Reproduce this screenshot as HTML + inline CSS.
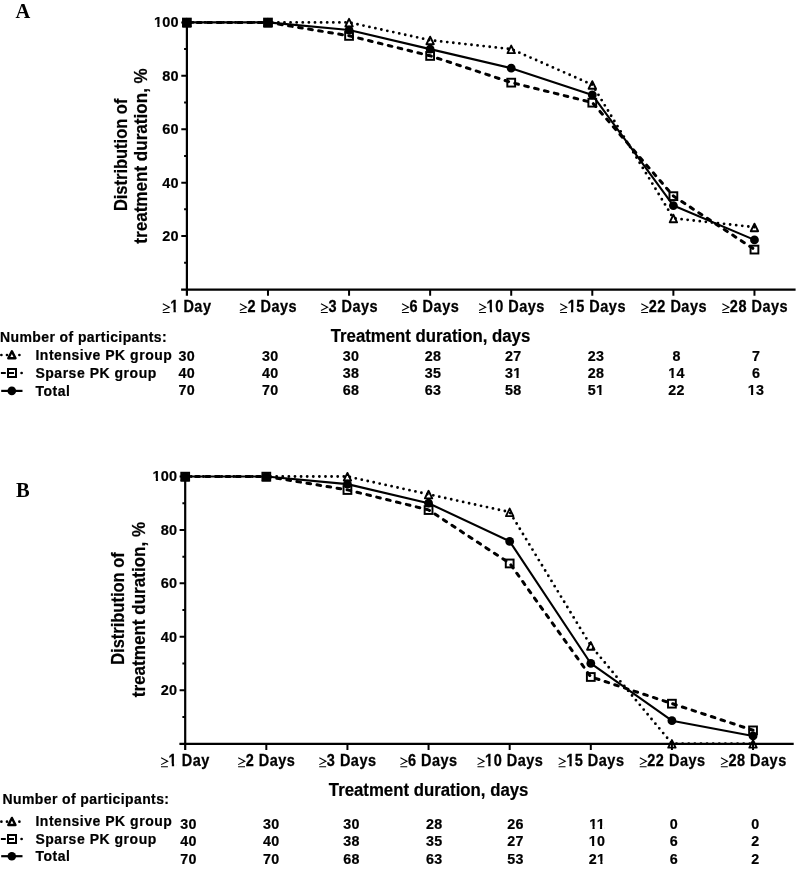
<!DOCTYPE html>
<html><head><meta charset="utf-8"><style>
html,body{margin:0;padding:0;background:#fff;overflow:hidden;width:797px;height:869px;}
svg{display:block;will-change:transform;}
</style></head><body>
<svg width="797" height="869" viewBox="0 0 797 869" font-family='"Liberation Sans", sans-serif' fill="#000">
<rect width="797" height="869" fill="#fff"/>
<text transform="translate(15.4 17.9) scale(1 1.03)" font-family='"Liberation Serif", serif' font-weight="bold" font-size="20.5">A</text>
<path d="M184.10 262.79H186.9M181.30 236.08H186.9M184.10 209.37H186.9M181.30 182.66H186.9M184.10 155.95H186.9M181.30 129.24H186.9M184.10 102.53H186.9M181.30 75.82H186.9M184.10 49.11H186.9M181.30 22.40H186.9M267.98 289.5V295.80M349.06 289.5V295.80M430.14 289.5V295.80M511.22 289.5V295.80M592.30 289.5V295.80M673.38 289.5V295.80M754.46 289.5V295.80" stroke="#000" stroke-width="2" fill="none"/>
<text transform="translate(178.7 241.08) scale(1 1.06)" text-anchor="end" font-size="14.5" font-weight="bold" letter-spacing="0.15" stroke="#000" stroke-width="0.2">20</text>
<text transform="translate(178.7 187.66) scale(1 1.06)" text-anchor="end" font-size="14.5" font-weight="bold" letter-spacing="0.15" stroke="#000" stroke-width="0.2">40</text>
<text transform="translate(178.7 134.24) scale(1 1.06)" text-anchor="end" font-size="14.5" font-weight="bold" letter-spacing="0.15" stroke="#000" stroke-width="0.2">60</text>
<text transform="translate(178.7 80.82) scale(1 1.06)" text-anchor="end" font-size="14.5" font-weight="bold" letter-spacing="0.15" stroke="#000" stroke-width="0.2">80</text>
<text transform="translate(178.7 26.50) scale(1 1.06)" text-anchor="end" font-size="14.5" font-weight="bold" letter-spacing="0.15" stroke="#000" stroke-width="0.2">100</text>
<path d="M162.80 303.70L169.40 307.20L162.80 310.50M162.70 312.55H169.60" fill="none" stroke="#000" stroke-width="1.05"/>
<text transform="translate(170.30 312.2) scale(1 1.11)" font-size="14.5" font-weight="bold" letter-spacing="0.5" stroke="#000" stroke-width="0.25">1 Day</text>
<path d="M239.88 303.70L246.48 307.20L239.88 310.50M239.78 312.55H246.68" fill="none" stroke="#000" stroke-width="1.05"/>
<text transform="translate(247.38 312.2) scale(1 1.11)" font-size="14.5" font-weight="bold" letter-spacing="0.5" stroke="#000" stroke-width="0.25">2 Days</text>
<path d="M320.96 303.70L327.56 307.20L320.96 310.50M320.86 312.55H327.76" fill="none" stroke="#000" stroke-width="1.05"/>
<text transform="translate(328.46 312.2) scale(1 1.11)" font-size="14.5" font-weight="bold" letter-spacing="0.5" stroke="#000" stroke-width="0.25">3 Days</text>
<path d="M402.04 303.70L408.64 307.20L402.04 310.50M401.94 312.55H408.84" fill="none" stroke="#000" stroke-width="1.05"/>
<text transform="translate(409.54 312.2) scale(1 1.11)" font-size="14.5" font-weight="bold" letter-spacing="0.5" stroke="#000" stroke-width="0.25">6 Days</text>
<path d="M479.12 303.70L485.72 307.20L479.12 310.50M479.02 312.55H485.92" fill="none" stroke="#000" stroke-width="1.05"/>
<text transform="translate(486.62 312.2) scale(1 1.11)" font-size="14.5" font-weight="bold" letter-spacing="0.5" stroke="#000" stroke-width="0.25">10 Days</text>
<path d="M560.20 303.70L566.80 307.20L560.20 310.50M560.10 312.55H567.00" fill="none" stroke="#000" stroke-width="1.05"/>
<text transform="translate(567.70 312.2) scale(1 1.11)" font-size="14.5" font-weight="bold" letter-spacing="0.5" stroke="#000" stroke-width="0.25">15 Days</text>
<path d="M641.28 303.70L647.88 307.20L641.28 310.50M641.18 312.55H648.08" fill="none" stroke="#000" stroke-width="1.05"/>
<text transform="translate(648.78 312.2) scale(1 1.11)" font-size="14.5" font-weight="bold" letter-spacing="0.5" stroke="#000" stroke-width="0.25">22 Days</text>
<path d="M722.36 303.70L728.96 307.20L722.36 310.50M722.26 312.55H729.16" fill="none" stroke="#000" stroke-width="1.05"/>
<text transform="translate(729.86 312.2) scale(1 1.11)" font-size="14.5" font-weight="bold" letter-spacing="0.5" stroke="#000" stroke-width="0.25">28 Days</text>
<text transform="translate(126.9 154.85) rotate(-90) scale(1 1.06)" stroke="#000" stroke-width="0.2" text-anchor="middle" font-size="17" font-weight="bold" textLength="112.5" lengthAdjust="spacingAndGlyphs">Distribution of</text>
<text transform="translate(146.9 155.95) rotate(-90) scale(1 1.06)" stroke="#000" stroke-width="0.2" text-anchor="middle" font-size="17" font-weight="bold" textLength="175.5" lengthAdjust="spacingAndGlyphs">treatment duration, %</text>
<polyline points="186.90,22.40 267.98,22.40 349.06,22.40 430.14,40.22 511.22,49.11 592.30,84.71 673.38,218.26 754.46,227.19" fill="none" stroke="#000" stroke-width="2.85" stroke-dasharray="0 6.104" stroke-dashoffset="0.1" stroke-linecap="round" stroke-linejoin="round"/>
<polyline points="186.90,22.40 267.98,22.40 349.06,35.76 430.14,55.79 511.22,82.50 592.30,102.53 673.38,196.01 754.46,249.44" fill="none" stroke="#000" stroke-width="3.0" stroke-dasharray="3.7 6.47" stroke-dashoffset="-0.25" stroke-linecap="round" stroke-linejoin="round"/>
<polyline points="186.90,22.40 267.98,22.40 349.06,30.04 430.14,49.11 511.22,68.18 592.30,94.89 673.38,205.55 754.46,239.90" fill="none" stroke="#000" stroke-width="2.1" stroke-linejoin="round"/>
<path d="M186.9 21.90V295.80M181.10 289.70H795.6" stroke="#000" stroke-width="2.2" fill="none"/>
<path d="M186.90 18.85L190.60 26.45H183.20Z" fill="none" stroke="#000" stroke-width="1.9" stroke-linejoin="round"/>
<path d="M267.98 18.85L271.68 26.45H264.28Z" fill="none" stroke="#000" stroke-width="1.9" stroke-linejoin="round"/>
<path d="M349.06 18.85L352.76 26.45H345.36Z" fill="none" stroke="#000" stroke-width="1.9" stroke-linejoin="round"/>
<path d="M430.14 36.67L433.84 44.27H426.44Z" fill="none" stroke="#000" stroke-width="1.9" stroke-linejoin="round"/>
<path d="M511.22 45.56L514.92 53.16H507.52Z" fill="none" stroke="#000" stroke-width="1.9" stroke-linejoin="round"/>
<path d="M592.30 81.16L596.00 88.76H588.60Z" fill="none" stroke="#000" stroke-width="1.9" stroke-linejoin="round"/>
<path d="M673.38 214.71L677.08 222.31H669.68Z" fill="none" stroke="#000" stroke-width="1.9" stroke-linejoin="round"/>
<path d="M754.46 223.64L758.16 231.24H750.76Z" fill="none" stroke="#000" stroke-width="1.9" stroke-linejoin="round"/>
<rect x="183.00" y="18.65" width="7.8" height="7.8" fill="none" stroke="#000" stroke-width="1.95"/>
<rect x="264.08" y="18.65" width="7.8" height="7.8" fill="none" stroke="#000" stroke-width="1.95"/>
<rect x="345.16" y="32.01" width="7.8" height="7.8" fill="none" stroke="#000" stroke-width="1.95"/>
<rect x="426.24" y="52.04" width="7.8" height="7.8" fill="none" stroke="#000" stroke-width="1.95"/>
<rect x="507.32" y="78.75" width="7.8" height="7.8" fill="none" stroke="#000" stroke-width="1.95"/>
<rect x="588.40" y="98.78" width="7.8" height="7.8" fill="none" stroke="#000" stroke-width="1.95"/>
<rect x="669.48" y="192.26" width="7.8" height="7.8" fill="none" stroke="#000" stroke-width="1.95"/>
<rect x="750.56" y="245.69" width="7.8" height="7.8" fill="none" stroke="#000" stroke-width="1.95"/>
<circle cx="186.90" cy="22.40" r="4.4" fill="#000"/>
<circle cx="267.98" cy="22.40" r="4.4" fill="#000"/>
<circle cx="349.06" cy="30.04" r="4.4" fill="#000"/>
<circle cx="430.14" cy="49.11" r="4.4" fill="#000"/>
<circle cx="511.22" cy="68.18" r="4.4" fill="#000"/>
<circle cx="592.30" cy="94.89" r="4.4" fill="#000"/>
<circle cx="673.38" cy="205.55" r="4.4" fill="#000"/>
<circle cx="754.46" cy="239.90" r="4.4" fill="#000"/>
<text transform="translate(330.7 342.0) scale(1 1.06)" font-size="17" font-weight="bold" textLength="199.6" lengthAdjust="spacingAndGlyphs" stroke="#000" stroke-width="0.2">Treatment duration, days</text>
<text transform="translate(0.10000000000000009 341.8) scale(1 1.06)" font-size="14" font-weight="bold" letter-spacing="0.4" stroke="#000" stroke-width="0.2">Number of participants:</text>
<text transform="translate(35.4 359.7) scale(1 1.06)" font-size="14" font-weight="bold" letter-spacing="0.53" stroke="#000" stroke-width="0.2">Intensive PK group</text>
<text transform="translate(186.7 361.1) scale(1 1.06)" text-anchor="middle" font-size="14.3" font-weight="bold" letter-spacing="0.3" stroke="#000" stroke-width="0.2">30</text>
<text transform="translate(270.2 361.1) scale(1 1.06)" text-anchor="middle" font-size="14.3" font-weight="bold" letter-spacing="0.3" stroke="#000" stroke-width="0.2">30</text>
<text transform="translate(351.0 361.1) scale(1 1.06)" text-anchor="middle" font-size="14.3" font-weight="bold" letter-spacing="0.3" stroke="#000" stroke-width="0.2">30</text>
<text transform="translate(432.9 361.1) scale(1 1.06)" text-anchor="middle" font-size="14.3" font-weight="bold" letter-spacing="0.3" stroke="#000" stroke-width="0.2">28</text>
<text transform="translate(513.2 361.1) scale(1 1.06)" text-anchor="middle" font-size="14.3" font-weight="bold" letter-spacing="0.3" stroke="#000" stroke-width="0.2">27</text>
<text transform="translate(596.1 361.1) scale(1 1.06)" text-anchor="middle" font-size="14.3" font-weight="bold" letter-spacing="0.3" stroke="#000" stroke-width="0.2">23</text>
<text transform="translate(676.5 361.1) scale(1 1.06)" text-anchor="middle" font-size="14.3" font-weight="bold" letter-spacing="0.3" stroke="#000" stroke-width="0.2">8</text>
<text transform="translate(756.0 361.1) scale(1 1.06)" text-anchor="middle" font-size="14.3" font-weight="bold" letter-spacing="0.3" stroke="#000" stroke-width="0.2">7</text>
<text transform="translate(35.4 377.7) scale(1 1.06)" font-size="14" font-weight="bold" letter-spacing="0.53" stroke="#000" stroke-width="0.2">Sparse PK group</text>
<text transform="translate(186.7 378.3) scale(1 1.06)" text-anchor="middle" font-size="14.3" font-weight="bold" letter-spacing="0.3" stroke="#000" stroke-width="0.2">40</text>
<text transform="translate(270.2 378.3) scale(1 1.06)" text-anchor="middle" font-size="14.3" font-weight="bold" letter-spacing="0.3" stroke="#000" stroke-width="0.2">40</text>
<text transform="translate(351.0 378.3) scale(1 1.06)" text-anchor="middle" font-size="14.3" font-weight="bold" letter-spacing="0.3" stroke="#000" stroke-width="0.2">38</text>
<text transform="translate(432.9 378.3) scale(1 1.06)" text-anchor="middle" font-size="14.3" font-weight="bold" letter-spacing="0.3" stroke="#000" stroke-width="0.2">35</text>
<text transform="translate(513.2 378.3) scale(1 1.06)" text-anchor="middle" font-size="14.3" font-weight="bold" letter-spacing="0.3" stroke="#000" stroke-width="0.2">31</text>
<text transform="translate(596.1 378.3) scale(1 1.06)" text-anchor="middle" font-size="14.3" font-weight="bold" letter-spacing="0.3" stroke="#000" stroke-width="0.2">28</text>
<text transform="translate(676.5 378.3) scale(1 1.06)" text-anchor="middle" font-size="14.3" font-weight="bold" letter-spacing="0.3" stroke="#000" stroke-width="0.2">14</text>
<text transform="translate(756.0 378.3) scale(1 1.06)" text-anchor="middle" font-size="14.3" font-weight="bold" letter-spacing="0.3" stroke="#000" stroke-width="0.2">6</text>
<text transform="translate(35.4 395.6) scale(1 1.06)" font-size="14" font-weight="bold" letter-spacing="0.53" stroke="#000" stroke-width="0.2">Total</text>
<text transform="translate(186.7 395.4) scale(1 1.06)" text-anchor="middle" font-size="14.3" font-weight="bold" letter-spacing="0.3" stroke="#000" stroke-width="0.2">70</text>
<text transform="translate(270.2 395.4) scale(1 1.06)" text-anchor="middle" font-size="14.3" font-weight="bold" letter-spacing="0.3" stroke="#000" stroke-width="0.2">70</text>
<text transform="translate(351.0 395.4) scale(1 1.06)" text-anchor="middle" font-size="14.3" font-weight="bold" letter-spacing="0.3" stroke="#000" stroke-width="0.2">68</text>
<text transform="translate(432.9 395.4) scale(1 1.06)" text-anchor="middle" font-size="14.3" font-weight="bold" letter-spacing="0.3" stroke="#000" stroke-width="0.2">63</text>
<text transform="translate(513.2 395.4) scale(1 1.06)" text-anchor="middle" font-size="14.3" font-weight="bold" letter-spacing="0.3" stroke="#000" stroke-width="0.2">58</text>
<text transform="translate(596.1 395.4) scale(1 1.06)" text-anchor="middle" font-size="14.3" font-weight="bold" letter-spacing="0.3" stroke="#000" stroke-width="0.2">51</text>
<text transform="translate(676.5 395.4) scale(1 1.06)" text-anchor="middle" font-size="14.3" font-weight="bold" letter-spacing="0.3" stroke="#000" stroke-width="0.2">22</text>
<text transform="translate(756.0 395.4) scale(1 1.06)" text-anchor="middle" font-size="14.3" font-weight="bold" letter-spacing="0.3" stroke="#000" stroke-width="0.2">13</text>
<path d="M1.4 355.00h0M7.0 355.00h0M19.4 355.00h0" stroke="#000" stroke-width="2.7" stroke-linecap="round"/>
<path d="M11.9 351.25L15.45 358.25H8.35Z" fill="none" stroke="#000" stroke-width="2.5" stroke-linejoin="round"/>
<path d="M0.9 373H5.8M8 373H14" stroke="#000" stroke-width="2"/>
<rect x="8" y="369" width="8" height="8" fill="none" stroke="#000" stroke-width="2"/>
<path d="M21.6 373.00h0" stroke="#000" stroke-width="2.7" stroke-linecap="round"/>
<path d="M1.2 390.90H22.5" stroke="#000" stroke-width="2.2"/>
<circle cx="11.8" cy="390.90" r="4.3" fill="#000"/>
<text transform="translate(15.900000000000002 496.6) scale(1 1.03)" font-family='"Liberation Serif", serif' font-weight="bold" font-size="20.5">B</text>
<path d="M182.40 716.89H185.2M179.60 690.18H185.2M182.40 663.47H185.2M179.60 636.76H185.2M182.40 610.05H185.2M179.60 583.34H185.2M182.40 556.63H185.2M179.60 529.92H185.2M182.40 503.21H185.2M179.60 476.50H185.2M266.32 743.6V749.90M347.44 743.6V749.90M428.56 743.6V749.90M509.68 743.6V749.90M590.80 743.6V749.90M671.92 743.6V749.90M753.04 743.6V749.90" stroke="#000" stroke-width="2" fill="none"/>
<text transform="translate(177.2 695.18) scale(1 1.06)" text-anchor="end" font-size="14.5" font-weight="bold" letter-spacing="0.15" stroke="#000" stroke-width="0.2">20</text>
<text transform="translate(177.2 641.76) scale(1 1.06)" text-anchor="end" font-size="14.5" font-weight="bold" letter-spacing="0.15" stroke="#000" stroke-width="0.2">40</text>
<text transform="translate(177.2 588.34) scale(1 1.06)" text-anchor="end" font-size="14.5" font-weight="bold" letter-spacing="0.15" stroke="#000" stroke-width="0.2">60</text>
<text transform="translate(177.2 534.92) scale(1 1.06)" text-anchor="end" font-size="14.5" font-weight="bold" letter-spacing="0.15" stroke="#000" stroke-width="0.2">80</text>
<text transform="translate(177.2 480.60) scale(1 1.06)" text-anchor="end" font-size="14.5" font-weight="bold" letter-spacing="0.15" stroke="#000" stroke-width="0.2">100</text>
<path d="M161.10 757.80L167.70 761.30L161.10 764.60M161.00 766.65H167.90" fill="none" stroke="#000" stroke-width="1.05"/>
<text transform="translate(168.60 766.3) scale(1 1.11)" font-size="14.5" font-weight="bold" letter-spacing="0.5" stroke="#000" stroke-width="0.25">1 Day</text>
<path d="M238.22 757.80L244.82 761.30L238.22 764.60M238.12 766.65H245.02" fill="none" stroke="#000" stroke-width="1.05"/>
<text transform="translate(245.72 766.3) scale(1 1.11)" font-size="14.5" font-weight="bold" letter-spacing="0.5" stroke="#000" stroke-width="0.25">2 Days</text>
<path d="M319.34 757.80L325.94 761.30L319.34 764.60M319.24 766.65H326.14" fill="none" stroke="#000" stroke-width="1.05"/>
<text transform="translate(326.84 766.3) scale(1 1.11)" font-size="14.5" font-weight="bold" letter-spacing="0.5" stroke="#000" stroke-width="0.25">3 Days</text>
<path d="M400.46 757.80L407.06 761.30L400.46 764.60M400.36 766.65H407.26" fill="none" stroke="#000" stroke-width="1.05"/>
<text transform="translate(407.96 766.3) scale(1 1.11)" font-size="14.5" font-weight="bold" letter-spacing="0.5" stroke="#000" stroke-width="0.25">6 Days</text>
<path d="M477.58 757.80L484.18 761.30L477.58 764.60M477.48 766.65H484.38" fill="none" stroke="#000" stroke-width="1.05"/>
<text transform="translate(485.08 766.3) scale(1 1.11)" font-size="14.5" font-weight="bold" letter-spacing="0.5" stroke="#000" stroke-width="0.25">10 Days</text>
<path d="M558.70 757.80L565.30 761.30L558.70 764.60M558.60 766.65H565.50" fill="none" stroke="#000" stroke-width="1.05"/>
<text transform="translate(566.20 766.3) scale(1 1.11)" font-size="14.5" font-weight="bold" letter-spacing="0.5" stroke="#000" stroke-width="0.25">15 Days</text>
<path d="M639.82 757.80L646.42 761.30L639.82 764.60M639.72 766.65H646.62" fill="none" stroke="#000" stroke-width="1.05"/>
<text transform="translate(647.32 766.3) scale(1 1.11)" font-size="14.5" font-weight="bold" letter-spacing="0.5" stroke="#000" stroke-width="0.25">22 Days</text>
<path d="M720.94 757.80L727.54 761.30L720.94 764.60M720.84 766.65H727.74" fill="none" stroke="#000" stroke-width="1.05"/>
<text transform="translate(728.44 766.3) scale(1 1.11)" font-size="14.5" font-weight="bold" letter-spacing="0.5" stroke="#000" stroke-width="0.25">28 Days</text>
<text transform="translate(124.3 608.55) rotate(-90) scale(1 1.06)" stroke="#000" stroke-width="0.2" text-anchor="middle" font-size="17" font-weight="bold" textLength="112.5" lengthAdjust="spacingAndGlyphs">Distribution of</text>
<text transform="translate(144.9 609.55) rotate(-90) scale(1 1.06)" stroke="#000" stroke-width="0.2" text-anchor="middle" font-size="17" font-weight="bold" textLength="175.5" lengthAdjust="spacingAndGlyphs">treatment duration, %</text>
<polyline points="185.20,476.50 266.32,476.50 347.44,476.50 428.56,494.32 509.68,512.10 590.80,645.65 671.92,743.60 753.04,743.60" fill="none" stroke="#000" stroke-width="2.85" stroke-dasharray="0 6.104" stroke-dashoffset="0.1" stroke-linecap="round" stroke-linejoin="round"/>
<polyline points="185.20,476.50 266.32,476.50 347.44,489.86 428.56,509.89 509.68,563.31 590.80,676.83 671.92,703.54 753.04,730.25" fill="none" stroke="#000" stroke-width="3.0" stroke-dasharray="3.7 6.47" stroke-dashoffset="-0.25" stroke-linecap="round" stroke-linejoin="round"/>
<polyline points="185.20,476.50 266.32,476.50 347.44,484.14 428.56,503.21 509.68,541.38 590.80,663.47 671.92,720.71 753.04,735.96" fill="none" stroke="#000" stroke-width="2.1" stroke-linejoin="round"/>
<path d="M185.2 476.00V749.90M179.40 743.80H793.7" stroke="#000" stroke-width="2.2" fill="none"/>
<path d="M185.20 472.95L188.90 480.55H181.50Z" fill="none" stroke="#000" stroke-width="1.9" stroke-linejoin="round"/>
<path d="M266.32 472.95L270.02 480.55H262.62Z" fill="none" stroke="#000" stroke-width="1.9" stroke-linejoin="round"/>
<path d="M347.44 472.95L351.14 480.55H343.74Z" fill="none" stroke="#000" stroke-width="1.9" stroke-linejoin="round"/>
<path d="M428.56 490.77L432.26 498.37H424.86Z" fill="none" stroke="#000" stroke-width="1.9" stroke-linejoin="round"/>
<path d="M509.68 508.55L513.38 516.15H505.98Z" fill="none" stroke="#000" stroke-width="1.9" stroke-linejoin="round"/>
<path d="M590.80 642.10L594.50 649.70H587.10Z" fill="none" stroke="#000" stroke-width="1.9" stroke-linejoin="round"/>
<path d="M671.92 740.05L675.62 747.65H668.22Z" fill="none" stroke="#000" stroke-width="1.9" stroke-linejoin="round"/>
<path d="M753.04 740.05L756.74 747.65H749.34Z" fill="none" stroke="#000" stroke-width="1.9" stroke-linejoin="round"/>
<rect x="181.30" y="472.75" width="7.8" height="7.8" fill="none" stroke="#000" stroke-width="1.95"/>
<rect x="262.42" y="472.75" width="7.8" height="7.8" fill="none" stroke="#000" stroke-width="1.95"/>
<rect x="343.54" y="486.11" width="7.8" height="7.8" fill="none" stroke="#000" stroke-width="1.95"/>
<rect x="424.66" y="506.14" width="7.8" height="7.8" fill="none" stroke="#000" stroke-width="1.95"/>
<rect x="505.78" y="559.56" width="7.8" height="7.8" fill="none" stroke="#000" stroke-width="1.95"/>
<rect x="586.90" y="673.08" width="7.8" height="7.8" fill="none" stroke="#000" stroke-width="1.95"/>
<rect x="668.02" y="699.79" width="7.8" height="7.8" fill="none" stroke="#000" stroke-width="1.95"/>
<rect x="749.14" y="726.50" width="7.8" height="7.8" fill="none" stroke="#000" stroke-width="1.95"/>
<circle cx="185.20" cy="476.50" r="4.4" fill="#000"/>
<circle cx="266.32" cy="476.50" r="4.4" fill="#000"/>
<circle cx="347.44" cy="484.14" r="4.4" fill="#000"/>
<circle cx="428.56" cy="503.21" r="4.4" fill="#000"/>
<circle cx="509.68" cy="541.38" r="4.4" fill="#000"/>
<circle cx="590.80" cy="663.47" r="4.4" fill="#000"/>
<circle cx="671.92" cy="720.71" r="4.4" fill="#000"/>
<circle cx="753.04" cy="735.96" r="4.4" fill="#000"/>
<text transform="translate(328.8 796.2) scale(1 1.06)" font-size="17" font-weight="bold" textLength="199.6" lengthAdjust="spacingAndGlyphs" stroke="#000" stroke-width="0.2">Treatment duration, days</text>
<text transform="translate(2.5 804.4) scale(1 1.06)" font-size="14" font-weight="bold" letter-spacing="0.4" stroke="#000" stroke-width="0.2">Number of participants:</text>
<text transform="translate(35.4 826.4) scale(1 1.06)" font-size="14" font-weight="bold" letter-spacing="0.53" stroke="#000" stroke-width="0.2">Intensive PK group</text>
<text transform="translate(188.4 828.8) scale(1 1.06)" text-anchor="middle" font-size="14.3" font-weight="bold" letter-spacing="0.3" stroke="#000" stroke-width="0.2">30</text>
<text transform="translate(271.2 828.8) scale(1 1.06)" text-anchor="middle" font-size="14.3" font-weight="bold" letter-spacing="0.3" stroke="#000" stroke-width="0.2">30</text>
<text transform="translate(351.5 828.8) scale(1 1.06)" text-anchor="middle" font-size="14.3" font-weight="bold" letter-spacing="0.3" stroke="#000" stroke-width="0.2">30</text>
<text transform="translate(434.2 828.8) scale(1 1.06)" text-anchor="middle" font-size="14.3" font-weight="bold" letter-spacing="0.3" stroke="#000" stroke-width="0.2">28</text>
<text transform="translate(515.5 828.8) scale(1 1.06)" text-anchor="middle" font-size="14.3" font-weight="bold" letter-spacing="0.3" stroke="#000" stroke-width="0.2">26</text>
<text transform="translate(597.1 828.8) scale(1 1.06)" text-anchor="middle" font-size="14.3" font-weight="bold" letter-spacing="0.3" stroke="#000" stroke-width="0.2">11</text>
<text transform="translate(673.8 828.8) scale(1 1.06)" text-anchor="middle" font-size="14.3" font-weight="bold" letter-spacing="0.3" stroke="#000" stroke-width="0.2">0</text>
<text transform="translate(755.4 828.8) scale(1 1.06)" text-anchor="middle" font-size="14.3" font-weight="bold" letter-spacing="0.3" stroke="#000" stroke-width="0.2">0</text>
<text transform="translate(35.4 843.7) scale(1 1.06)" font-size="14" font-weight="bold" letter-spacing="0.53" stroke="#000" stroke-width="0.2">Sparse PK group</text>
<text transform="translate(188.4 846.1) scale(1 1.06)" text-anchor="middle" font-size="14.3" font-weight="bold" letter-spacing="0.3" stroke="#000" stroke-width="0.2">40</text>
<text transform="translate(271.2 846.1) scale(1 1.06)" text-anchor="middle" font-size="14.3" font-weight="bold" letter-spacing="0.3" stroke="#000" stroke-width="0.2">40</text>
<text transform="translate(351.5 846.1) scale(1 1.06)" text-anchor="middle" font-size="14.3" font-weight="bold" letter-spacing="0.3" stroke="#000" stroke-width="0.2">38</text>
<text transform="translate(434.2 846.1) scale(1 1.06)" text-anchor="middle" font-size="14.3" font-weight="bold" letter-spacing="0.3" stroke="#000" stroke-width="0.2">35</text>
<text transform="translate(515.5 846.1) scale(1 1.06)" text-anchor="middle" font-size="14.3" font-weight="bold" letter-spacing="0.3" stroke="#000" stroke-width="0.2">27</text>
<text transform="translate(597.1 846.1) scale(1 1.06)" text-anchor="middle" font-size="14.3" font-weight="bold" letter-spacing="0.3" stroke="#000" stroke-width="0.2">10</text>
<text transform="translate(673.8 846.1) scale(1 1.06)" text-anchor="middle" font-size="14.3" font-weight="bold" letter-spacing="0.3" stroke="#000" stroke-width="0.2">6</text>
<text transform="translate(755.4 846.1) scale(1 1.06)" text-anchor="middle" font-size="14.3" font-weight="bold" letter-spacing="0.3" stroke="#000" stroke-width="0.2">2</text>
<text transform="translate(35.4 860.9) scale(1 1.06)" font-size="14" font-weight="bold" letter-spacing="0.53" stroke="#000" stroke-width="0.2">Total</text>
<text transform="translate(188.4 863.5) scale(1 1.06)" text-anchor="middle" font-size="14.3" font-weight="bold" letter-spacing="0.3" stroke="#000" stroke-width="0.2">70</text>
<text transform="translate(271.2 863.5) scale(1 1.06)" text-anchor="middle" font-size="14.3" font-weight="bold" letter-spacing="0.3" stroke="#000" stroke-width="0.2">70</text>
<text transform="translate(351.5 863.5) scale(1 1.06)" text-anchor="middle" font-size="14.3" font-weight="bold" letter-spacing="0.3" stroke="#000" stroke-width="0.2">68</text>
<text transform="translate(434.2 863.5) scale(1 1.06)" text-anchor="middle" font-size="14.3" font-weight="bold" letter-spacing="0.3" stroke="#000" stroke-width="0.2">63</text>
<text transform="translate(515.5 863.5) scale(1 1.06)" text-anchor="middle" font-size="14.3" font-weight="bold" letter-spacing="0.3" stroke="#000" stroke-width="0.2">53</text>
<text transform="translate(597.1 863.5) scale(1 1.06)" text-anchor="middle" font-size="14.3" font-weight="bold" letter-spacing="0.3" stroke="#000" stroke-width="0.2">21</text>
<text transform="translate(673.8 863.5) scale(1 1.06)" text-anchor="middle" font-size="14.3" font-weight="bold" letter-spacing="0.3" stroke="#000" stroke-width="0.2">6</text>
<text transform="translate(755.4 863.5) scale(1 1.06)" text-anchor="middle" font-size="14.3" font-weight="bold" letter-spacing="0.3" stroke="#000" stroke-width="0.2">2</text>
<path d="M1.4 821.70h0M7.0 821.70h0M19.4 821.70h0" stroke="#000" stroke-width="2.7" stroke-linecap="round"/>
<path d="M11.9 817.95L15.45 824.95H8.35Z" fill="none" stroke="#000" stroke-width="2.5" stroke-linejoin="round"/>
<path d="M0.9 839H5.8M8 839H14" stroke="#000" stroke-width="2"/>
<rect x="8" y="835" width="8" height="8" fill="none" stroke="#000" stroke-width="2"/>
<path d="M21.6 839.00h0" stroke="#000" stroke-width="2.7" stroke-linecap="round"/>
<path d="M1.2 856.20H22.5" stroke="#000" stroke-width="2.2"/>
<circle cx="11.8" cy="856.20" r="4.3" fill="#000"/>
<g><rect x="154.07" y="23.87" width="3.25" height="3.26" fill="#fff"/><rect x="159.55" y="23.87" width="2.77" height="3.26" fill="#fff"/><rect x="170.31" y="309.42" width="3.23" height="3.47" fill="#fff"/><rect x="175.82" y="309.42" width="2.74" height="3.47" fill="#fff"/><rect x="486.63" y="309.42" width="3.23" height="3.47" fill="#fff"/><rect x="492.14" y="309.42" width="2.74" height="3.47" fill="#fff"/><rect x="567.71" y="309.42" width="3.23" height="3.47" fill="#fff"/><rect x="573.22" y="309.42" width="2.74" height="3.47" fill="#fff"/><rect x="513.19" y="375.69" width="3.22" height="3.24" fill="#fff"/><rect x="518.60" y="375.69" width="2.74" height="3.24" fill="#fff"/><rect x="668.25" y="375.69" width="3.22" height="3.24" fill="#fff"/><rect x="673.67" y="375.69" width="2.74" height="3.24" fill="#fff"/><rect x="596.09" y="392.79" width="3.22" height="3.24" fill="#fff"/><rect x="601.50" y="392.79" width="2.74" height="3.24" fill="#fff"/><rect x="747.75" y="392.79" width="3.22" height="3.24" fill="#fff"/><rect x="753.17" y="392.79" width="2.74" height="3.24" fill="#fff"/><rect x="152.57" y="477.97" width="3.25" height="3.26" fill="#fff"/><rect x="158.05" y="477.97" width="2.77" height="3.26" fill="#fff"/><rect x="168.61" y="763.52" width="3.23" height="3.47" fill="#fff"/><rect x="174.12" y="763.52" width="2.74" height="3.47" fill="#fff"/><rect x="485.09" y="763.52" width="3.23" height="3.47" fill="#fff"/><rect x="490.60" y="763.52" width="2.74" height="3.47" fill="#fff"/><rect x="566.21" y="763.52" width="3.23" height="3.47" fill="#fff"/><rect x="571.72" y="763.52" width="2.74" height="3.47" fill="#fff"/><rect x="589.25" y="826.19" width="3.22" height="3.24" fill="#fff"/><rect x="594.66" y="826.19" width="2.74" height="3.24" fill="#fff"/><rect x="596.69" y="826.19" width="3.22" height="3.24" fill="#fff"/><rect x="602.11" y="826.19" width="2.74" height="3.24" fill="#fff"/><rect x="588.85" y="843.49" width="3.22" height="3.24" fill="#fff"/><rect x="594.27" y="843.49" width="2.74" height="3.24" fill="#fff"/><rect x="597.09" y="860.89" width="3.22" height="3.24" fill="#fff"/><rect x="602.50" y="860.89" width="2.74" height="3.24" fill="#fff"/></g>
</svg>
</body></html>
